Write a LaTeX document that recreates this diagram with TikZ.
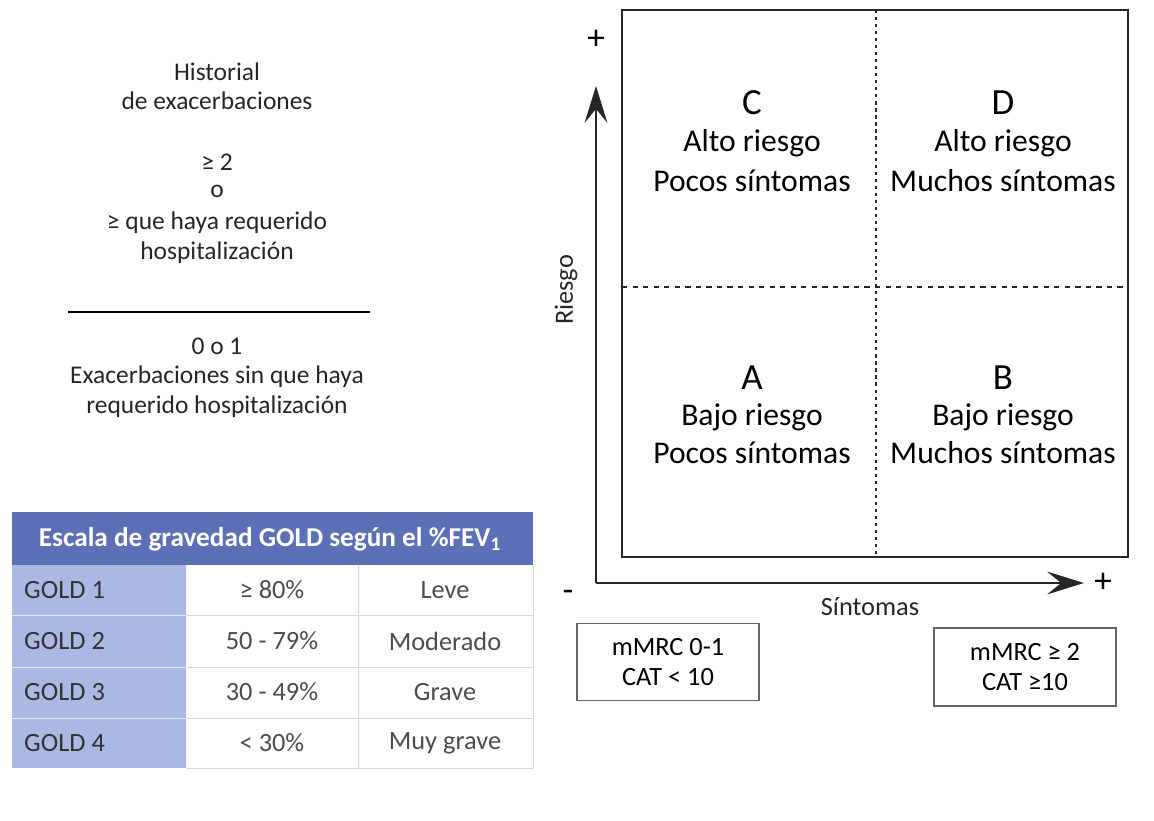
\documentclass[tikz,border=0pt]{standalone}
\usepackage{fontspec}
\setmainfont{Carlito}
\usetikzlibrary{arrows.meta}
\definecolor{goldhead}{RGB}{92,112,184}
\definecolor{goldcol}{RGB}{170,184,228}
\definecolor{gridgray}{RGB}{215,215,220}
\newcommand*{\Fs}[1]{\fontsize{#1}{#1}\selectfont}

\begin{document}
\begin{tikzpicture}[x=0.02cm,y=-0.02cm]
    \useasboundingbox (0,0) rectangle (1154,821);
    % left column: exacerbation history
    \node[black!85] (hist1) at (217,72) {\Fs{14.5}Historial};
    \node[black!85] (hist2) at (217,101) {\Fs{14.5}de exacerbaciones};
    \node[black!85] (hist3) at (217,162) {\Fs{14.5}≥ 2};
    \node[black!85] (hist4) at (217,191) {\Fs{14.5}o};
    \node[black!85] (hist5) at (217,223) {\Fs{14.5}≥ que haya requerido};
    \node[black!85] (hist6) at (217,253) {\Fs{14.5}hospitalización};
    \draw[black, thick] (68,312) -- (370,312);
    \node[black!85] (low1) at (217,346) {\Fs{14.5}0 o 1};
    \node[black!85] (low2) at (217,377) {\Fs{14.5}Exacerbaciones sin que haya};
    \node[black!85] (low3) at (217,407) {\Fs{14.5}requerido hospitalización};
    % GOLD table
    \fill[goldhead] (12,512) rectangle (533,565);
    \fill[goldcol] (12,565) rectangle (186,768);
    \draw[gridgray] (186,615) -- (533,615);
    \draw[gridgray] (186,667) -- (533,667);
    \draw[gridgray] (186,718) -- (533,718);
    \draw[gridgray] (358,565) -- (358,768);
    \draw[gridgray] (533,565) -- (533,768) -- (186,768);
    \draw[white!85!goldhead] (12,615) -- (186,615);
    \draw[white!85!goldhead] (12,667) -- (186,667);
    \draw[white!85!goldhead] (12,718) -- (186,718);
    \node[white] (head) at (270,539) {\Fs{15.5}\bfseries Escala de gravedad GOLD según el \%FEV\textsubscript{1}};
    \node[black!80, anchor=west] (g1) at (18,590) {\Fs{15}GOLD 1};
    \node[black!80, anchor=west] (g2) at (18,641) {\Fs{15}GOLD 2};
    \node[black!80, anchor=west] (g3) at (18,692) {\Fs{15}GOLD 3};
    \node[black!80, anchor=west] (g4) at (18,743) {\Fs{15}GOLD 4};
    \node[black!70] (p1) at (272,590) {\Fs{15}≥ 80\%};
    \node[black!70] (p2) at (272,641) {\Fs{15}50 - 79\%};
    \node[black!70] (p3) at (272,692) {\Fs{15}30 - 49\%};
    \node[black!70] (p4) at (272,743) {\Fs{15}< 30\%};
    \node[black!70] (s1) at (445,590) {\Fs{15}Leve};
    \node[black!70] (s2) at (445,641) {\Fs{15}Moderado};
    \node[black!70] (s3) at (445,692) {\Fs{15}Grave};
    \node[black!70] (s4) at (445,743) {\Fs{15}Muy grave};
    % quadrant chart
    \draw[black!85, thick] (622,10) rectangle (1128,557);
    \draw[black!85, line width=1.3pt, dash pattern=on 1.8pt off 2.2pt] (876,10) -- (876,557);
    \draw[black!85, thick, dashed] (622,287) -- (1128,287);
    \node[black] (qC) at (752,103) {\Fs{21}C};
    \node[black] (qC1) at (752,143) {\Fs{18}Alto riesgo};
    \node[black] (qC2) at (752,181) {\Fs{18}Pocos síntomas};
    \node[black] (qD) at (1003,103) {\Fs{21}D};
    \node[black] (qD1) at (1003,143) {\Fs{18}Alto riesgo};
    \node[black] (qD2) at (1003,181) {\Fs{18}Muchos síntomas};
    \node[black] (qA) at (752,378) {\Fs{21}A};
    \node[black] (qA1) at (752,417) {\Fs{18}Bajo riesgo};
    \node[black] (qA2) at (752,453) {\Fs{18}Pocos síntomas};
    \node[black] (qB) at (1003,378) {\Fs{21}B};
    \node[black] (qB1) at (1003,417) {\Fs{18}Bajo riesgo};
    \node[black] (qB2) at (1003,453) {\Fs{18}Muchos síntomas};
    % axes
    \coordinate (orig) at (596,583);
    \coordinate (ytip) at (596,86);
    \coordinate (xtip) at (1084,583);
    \draw[black!85, thick, -{Stealth[length=21pt,width=13pt,inset=8pt]}] (orig) -- (ytip);
    \draw[black!85, thick, -{Stealth[length=21pt,width=13pt,inset=8pt]}] (orig) -- (xtip);
    \node[black] (yplus) at (596,40) {\Fs{20}+};
    \node[black] (xplus) at (1103,583) {\Fs{20}+};
    \node[black] (xminus) at (568,596) {\Fs{20}-};
    \node[black!85, rotate=90] (riesgo) at (566,290) {\Fs{15}Riesgo};
    \node[black!85] (sint) at (870,607) {\Fs{15}Síntomas};
    % symptom boxes
    \node[draw=black!60, thick, minimum width=182*0.02cm, minimum height=77*0.02cm, align=center] (mlow) at (668,662)
        {\Fs{15}mMRC 0-1\\[5pt]\Fs{15}CAT < 10};
    \node[draw=black!60, thick, minimum width=182*0.02cm, minimum height=78*0.02cm, align=center] (mhigh) at (1025,667)
        {\Fs{15}mMRC ≥ 2\\[5pt]\Fs{15}CAT ≥10};
\end{tikzpicture}
\end{document}
